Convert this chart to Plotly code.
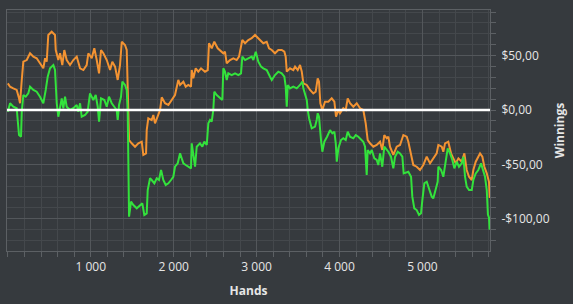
import plotly.graph_objects as go

# ---- data ----
orange_hands = [0, 27, 66, 107, 135, 147, 168, 187, 228, 268, 308, 348, 388, 428, 449, 469, 488, 529, 569, 578,
                609, 630, 657, 681, 710, 750, 790, 831, 871, 911, 951, 971, 1012, 1043, 1072, 1100, 1124, 1152, 1193, 1233,
                1260, 1293, 1325, 1353, 1374, 1413, 1434, 1446, 1462, 1494, 1534, 1574, 1615, 1634, 1667, 1675, 1694, 1735, 1755, 1775,
                1808, 1836, 1856, 1896, 1936, 1977, 2016, 2056, 2077, 2117, 2145, 2177, 2209, 2218, 2237, 2266, 2297, 2330, 2378, 2411,
                2426, 2459, 2490, 2531, 2559, 2599, 2619, 2640, 2680, 2720, 2760, 2788, 2828, 2861, 2900, 2941, 2981, 3014, 3041, 3081,
                3122, 3150, 3183, 3222, 3262, 3303, 3335, 3351, 3364, 3403, 3443, 3464, 3496, 3524, 3545, 3564, 3605, 3645, 3684, 3713,
                3737, 3753, 3769, 3793, 3825, 3865, 3906, 3938, 3958, 3986, 4006, 4046, 4075, 4099, 4127, 4167, 4208, 4248, 4287, 4316,
                4340, 4368, 4408, 4449, 4489, 4516, 4540, 4570, 4589, 4609, 4649, 4690, 4730, 4770, 4811, 4830, 4863, 4890, 4931, 4971,
                5011, 5052, 5092, 5131, 5172, 5192, 5233, 5252, 5273, 5312, 5345, 5373, 5402, 5434, 5474, 5506, 5534, 5562, 5595, 5614,
                5643, 5674, 5695, 5723, 5747, 5776, 5795, 5803, 5812]
orange_win = [24.5, 21.4, 19.9, 18.4, 10.7, 6.2, 27.6, 44.4, 45.9, 52.1, 49.0, 47.5, 42.9, 38.3, 47.5, 44.4, 68.9, 71.9, 68.9, 55.1,
              45.9, 52.1, 41.3, 55.1, 45.9, 41.3, 45.9, 49.0, 38.3, 36.7, 41.3, 52.1, 47.5, 56.7, 45.9, 33.7, 55.1, 52.1, 45.9, 36.7,
              44.4, 39.8, 27.6, 41.3, 62.7, 59.7, 55.1, 15.3, -27.6, -30.6, -33.7, -30.6, -29.1, -41.3, -39.8, -18.4, -7.6, -9.2, -4.6, -12.2,
              -6.2, 0.0, 11.7, 6.2, 4.6, 9.2, 13.8, 27.6, 23.0, 26.0, 21.4, 23.0, 21.4, 36.7, 29.1, 38.3, 35.2, 38.3, 35.2, 36.7,
              61.3, 56.7, 62.7, 56.7, 55.1, 52.1, 53.5, 42.9, 45.9, 47.5, 45.9, 49.0, 64.3, 61.3, 64.3, 65.9, 68.9, 65.9, 64.3, 61.3,
              62.7, 56.7, 55.1, 52.1, 55.1, 55.1, 53.5, 49.0, 35.2, 38.3, 36.7, 39.8, 36.7, 41.3, 35.2, 24.5, 23.0, 18.4, 15.3, 16.8,
              29.1, 26.0, 6.2, 0.0, 7.6, 7.6, 10.7, 7.6, -6.2, 0.0, -3.0, 1.6, 0.0, 10.7, 6.2, 3.0, 6.2, 1.6, 0.0, -12.2,
              -27.6, -30.6, -33.7, -32.1, -29.1, -36.7, -23.0, -26.0, -24.5, -33.7, -41.3, -33.7, -32.1, -23.0, -24.5, -29.1, -42.9, -50.5, -52.1, -55.1,
              -50.5, -42.9, -49.0, -44.4, -39.8, -32.1, -33.7, -38.3, -30.6, -29.1, -39.8, -44.4, -49.0, -44.4, -47.5, -39.8, -55.1, -61.3, -64.3, -55.1,
              -47.5, -42.9, -39.8, -42.9, -52.1, -58.2, -64.3, -66.0, -80.8]

green_hands = [0, 27, 66, 107, 119, 135, 159, 168, 187, 216, 247, 268, 308, 348, 388, 428, 457, 481, 509, 549,
               569, 590, 609, 630, 650, 669, 690, 710, 750, 790, 831, 850, 871, 891, 931, 963, 991, 1031, 1060, 1084,
               1100, 1124, 1164, 1193, 1220, 1253, 1284, 1313, 1325, 1341, 1365, 1381, 1413, 1434, 1446, 1462, 1486, 1514, 1555, 1594,
               1622, 1646, 1675, 1687, 1715, 1735, 1767, 1796, 1823, 1848, 1875, 1904, 1936, 1968, 1996, 2016, 2049, 2077, 2097, 2117,
               2145, 2177, 2209, 2218, 2237, 2258, 2278, 2318, 2346, 2370, 2399, 2418, 2439, 2459, 2478, 2490, 2519, 2559, 2587, 2599,
               2619, 2640, 2659, 2700, 2740, 2780, 2812, 2828, 2861, 2900, 2941, 2961, 2990, 3021, 3054, 3081, 3122, 3162, 3183, 3222,
               3262, 3303, 3335, 3351, 3364, 3376, 3403, 3443, 3484, 3524, 3552, 3564, 3584, 3605, 3617, 3633, 3665, 3705, 3725, 3737,
               3753, 3765, 3777, 3793, 3817, 3850, 3886, 3913, 3938, 3955, 3967, 3986, 4018, 4046, 4075, 4099, 4127, 4167, 4196, 4227,
               4260, 4287, 4308, 4328, 4340, 4368, 4389, 4420, 4449, 4468, 4489, 4516, 4540, 4570, 4589, 4621, 4649, 4670, 4702, 4730,
               4758, 4774, 4814, 4830, 4863, 4878, 4902, 4931, 4959, 4983, 4999, 5023, 5052, 5080, 5112, 5131, 5160, 5184, 5192, 5225,
               5252, 5273, 5305, 5333, 5361, 5385, 5414, 5441, 5474, 5494, 5514, 5534, 5562, 5595, 5614, 5643, 5674, 5707, 5735, 5755,
               5776, 5790, 5803, 5810]
green_win = [-1.6, 6.2, 3.0, 1.6, -9.2, -23.0, -24.5, -1.6, 13.8, 12.2, 15.3, 21.4, 18.4, 16.8, 12.2, 6.2, 18.4, 30.6, 38.3, 41.3,
             36.7, 6.2, -6.2, 3.0, 10.7, 1.6, 12.2, 3.0, 0.0, 1.6, 4.6, -1.6, 6.2, -6.2, -4.6, -1.6, 15.3, 9.2, 13.8, 3.0,
             -10.7, 10.7, 9.2, 3.0, 12.2, 6.2, 3.0, 0.0, -9.2, 4.6, 12.2, 26.0, 23.0, 18.4, -3.0, -98.0, -84.2, -87.3, -90.3, -87.3,
             -85.7, -96.4, -94.9, -73.5, -62.7, -64.3, -67.3, -62.7, -64.3, -55.1, -64.3, -68.9, -67.3, -64.3, -61.3, -52.1, -49.0, -39.8, -44.4, -49.0,
             -50.5, -52.1, -53.6, -30.6, -39.8, -52.1, -33.7, -30.6, -33.7, -29.1, -32.1, -12.2, -9.2, -10.7, 0.0, 16.8, 13.8, 10.7, 9.2, 38.3,
             35.2, 27.6, 33.7, 32.1, 33.7, 32.1, 33.7, 49.0, 45.9, 47.5, 49.0, 45.9, 53.5, 44.4, 39.8, 38.3, 36.7, 30.6, 27.6, 32.1,
             35.2, 33.7, 30.6, 21.4, 3.0, 23.0, 19.9, 21.4, 19.9, 23.0, 26.0, 19.9, 15.3, 9.2, 0.0, -7.6, -16.8, -15.3, -9.2, -3.0,
             -6.2, -21.4, -27.6, -38.3, -29.1, -24.5, -18.4, -21.4, -19.9, -30.6, -47.5, -35.2, -27.6, -26.0, -27.6, -19.9, -24.5, -26.0, -23.0, -24.5,
             -27.6, -29.1, -33.7, -59.7, -36.7, -39.8, -36.7, -44.4, -45.9, -50.5, -39.8, -52.1, -33.7, -36.7, -38.3, -42.9, -53.6, -42.9, -38.3, -39.8,
             -42.9, -58.2, -56.7, -56.7, -61.3, -79.6, -90.3, -91.9, -96.4, -94.9, -82.7, -67.3, -65.9, -71.9, -79.6, -81.2, -71.9, -65.9, -52.1, -55.1,
             -61.3, -50.5, -35.2, -39.8, -45.9, -53.6, -47.5, -52.1, -49.0, -42.9, -61.3, -70.4, -73.5, -73.5, -64.3, -58.2, -55.1, -49.0, -55.1, -61.3,
             -73.5, -96.0, -99.0, -110.0]

y_tickvals = [-100, -50, 0, 50]
y_ticktext = ["-$100,00", "-$50,00", "$0,00", "$50,00"]
x_tickvals = [1000, 2000, 3000, 4000, 5000]
x_ticktext = ["1 000", "2 000", "3 000", "4 000", "5 000"]

BG = "#363a3e"
GRID_MINOR = "#44484c"
GRID_MAJOR = "#53575b"
FRAME = "#5c6064"
TXT = "#e6e6e6"

fig = go.Figure()
fig.add_trace(go.Scatter(x=orange_hands, y=orange_win, mode="lines",
                         line=dict(color="#f39332", width=2), showlegend=False))
fig.add_trace(go.Scatter(x=green_hands, y=green_win, mode="lines",
                         line=dict(color="#33e23c", width=2), showlegend=False))

fig.add_shape(type="line", xref="paper", yref="y", x0=0, x1=1, y0=0, y1=0,
              line=dict(color="white", width=2.5), layer="above")

fig.update_layout(
    width=573, height=304,
    margin=dict(l=7, r=83, t=10, b=53),
    paper_bgcolor=BG, plot_bgcolor=BG,
    font=dict(family="Open Sans", size=12, color=TXT),
    xaxis=dict(
        range=[-10, 5815],
        tickvals=x_tickvals, ticktext=x_ticktext,
        showgrid=True, gridcolor=GRID_MAJOR, gridwidth=1,
        ticks="outside", ticklen=5, tickcolor=FRAME,
        showline=True, linecolor=FRAME, linewidth=1, mirror=True,
        zeroline=False,
        minor=dict(tick0=0, dtick=200, showgrid=True, gridcolor=GRID_MINOR,
                   ticks="outside", ticklen=5, tickcolor=FRAME),
        tickfont=dict(size=12, color=TXT),
        title=dict(text="<b>Hands</b>", font=dict(size=12, color=TXT), standoff=12),
    ),
    yaxis=dict(
        side="right",
        range=[-129.5, 91.85],
        tickvals=y_tickvals, ticktext=y_ticktext,
        showgrid=True, gridcolor=GRID_MAJOR, gridwidth=1,
        ticks="outside", ticklen=5, tickcolor=FRAME,
        ticklabelstandoff=3,
        showline=True, linecolor=FRAME, linewidth=1, mirror=True,
        zeroline=False,
        minor=dict(tick0=0, dtick=10, showgrid=True, gridcolor=GRID_MINOR,
                   ticks="outside", ticklen=5, tickcolor=FRAME),
        tickfont=dict(size=12, color=TXT),
        title=dict(text="<b>Winnings</b>", font=dict(size=12, color=TXT), standoff=6),
    ),
)

fig.write_html("out.html")
